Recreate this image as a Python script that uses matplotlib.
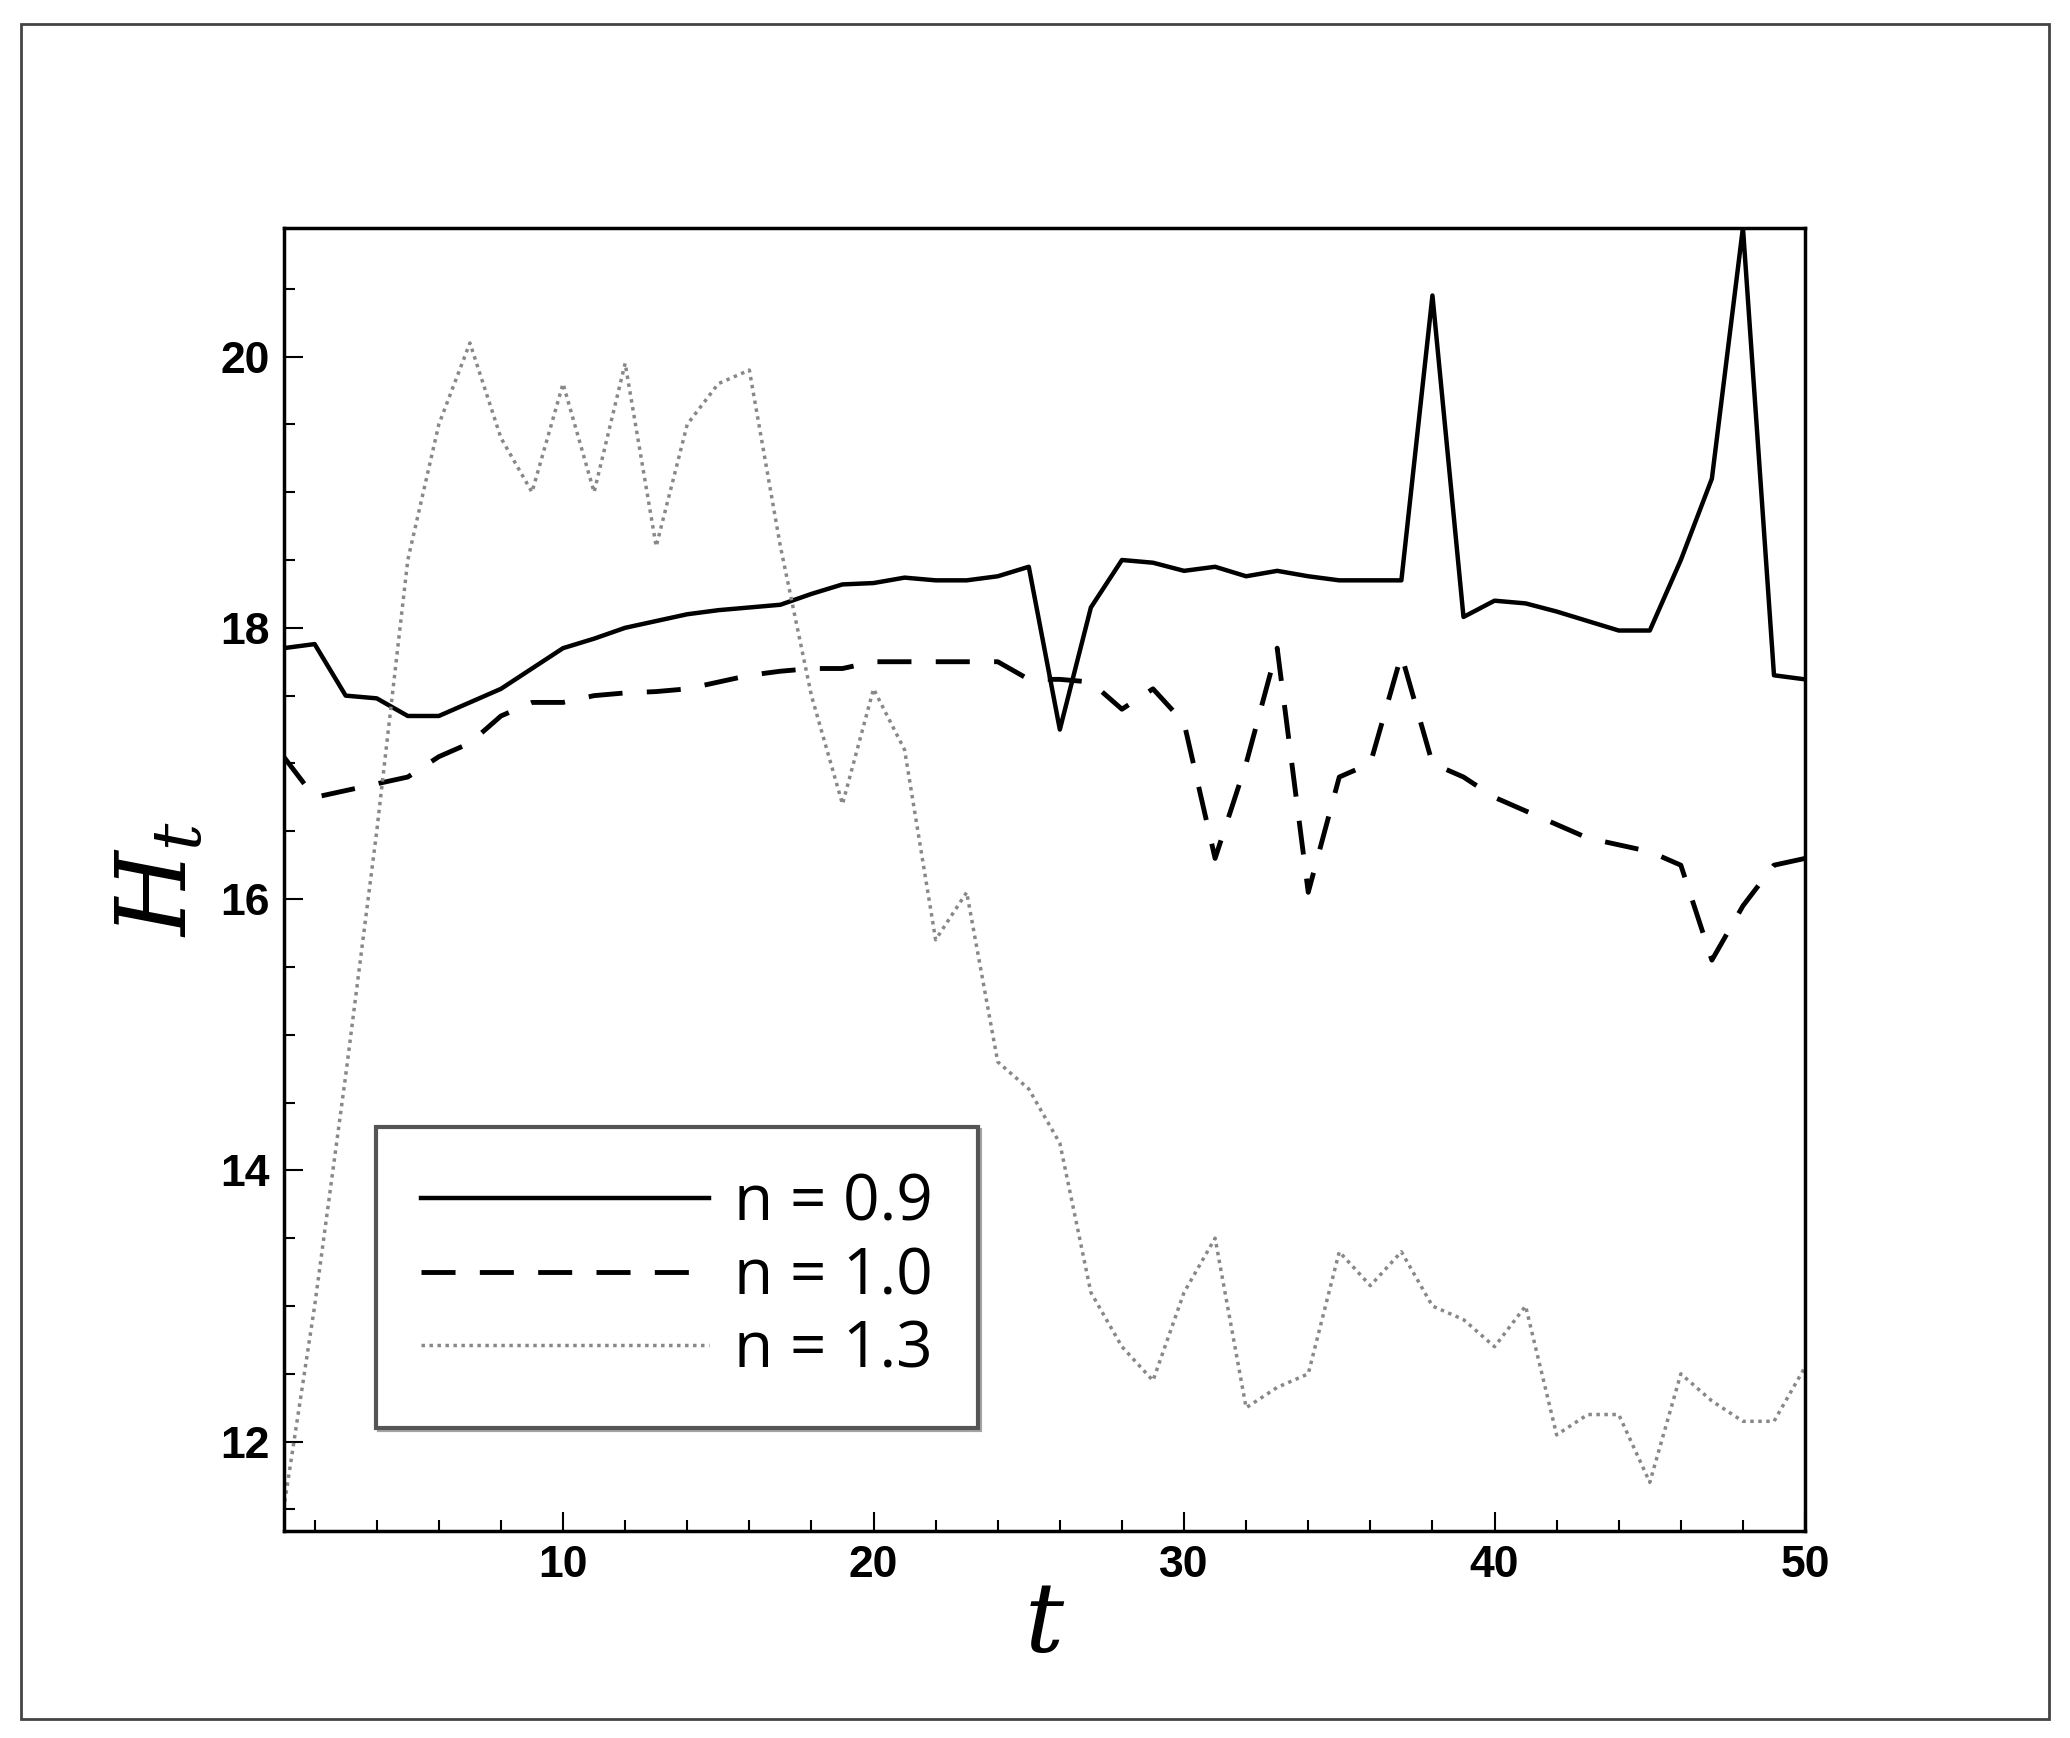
import matplotlib
matplotlib.use("Agg")
import matplotlib.pyplot as plt
from matplotlib.patches import Rectangle
from matplotlib.ticker import MultipleLocator
plt.rcParams["mathtext.fontset"] = "dejavuserif"

t = list(range(1, 51))
h09 = [17.85,17.88,17.5,17.48,17.35,17.35,17.45,17.55,17.7,17.85,17.92,18.0,18.05,18.1,18.13,18.15,18.17,18.25,18.32,18.33,
       18.37,18.35,18.35,18.38,18.45,17.25,18.15,18.5,18.48,18.42,18.45,18.38,18.42,18.38,18.35,18.35,18.35,20.45,18.08,18.2,
       18.18,18.12,18.05,17.98,17.98,18.5,19.1,20.95,17.65,17.62]
h10 = [17.05,16.75,16.8,16.85,16.9,17.05,17.15,17.35,17.45,17.45,17.5,17.52,17.53,17.55,17.6,17.65,17.68,17.7,17.7,17.75,
       17.75,17.75,17.75,17.75,17.62,17.62,17.6,17.4,17.55,17.3,16.3,17.0,17.85,16.05,16.9,17.0,17.8,17.0,16.9,16.75,
       16.65,16.55,16.45,16.4,16.35,16.25,15.55,15.95,16.25,16.3]
h13 = [11.5,13.0,14.7,16.5,18.5,19.5,20.1,19.4,19.0,19.8,19.0,19.95,18.6,19.5,19.8,19.9,18.6,17.5,16.7,17.55,
       17.1,15.7,16.05,14.8,14.6,14.2,13.1,12.7,12.45,13.1,13.5,12.25,12.4,12.5,13.4,13.15,13.4,13.0,12.9,12.7,
       13.0,12.05,12.2,12.2,11.7,12.5,12.3,12.15,12.15,12.55]
labels = ["n = 0.9", "n = 1.0", "n = 1.3"]

fig = plt.figure(figsize=(20.7, 17.38), dpi=100)
fig.patches.append(Rectangle((0.01, 0.011), 0.98, 0.975, transform=fig.transFigure,
                             fill=False, ec="#444", lw=2))
ax = fig.add_axes([0.137, 0.119, 0.735, 0.75])
ax.plot(t, h09, color="black", lw=3.2, label=labels[0])
ax.plot(t, h10, color="black", lw=3.5, dashes=(7, 5), label=labels[1])
ax.plot(t, h13, color="#888", lw=2.5, linestyle=(0, (1, 1.3)), label=labels[2])
ax.set_xlim(1, 50)
ax.set_ylim(11.34, 20.95)
ax.xaxis.set_major_locator(MultipleLocator(10))
ax.xaxis.set_minor_locator(MultipleLocator(2))
ax.yaxis.set_major_locator(MultipleLocator(2))
ax.yaxis.set_minor_locator(MultipleLocator(0.5))
ax.tick_params(which="both", direction="in", top=False, right=False, width=1.5)
ax.tick_params(which="major", length=14, labelsize=32, pad=10)
ax.tick_params(which="minor", length=8)
for lab in ax.get_xticklabels() + ax.get_yticklabels():
    lab.set_fontfamily("Liberation Sans"); lab.set_fontweight("bold")
for s in ax.spines.values():
    s.set_linewidth(2.5)
ax.set_xlabel("$t$", fontsize=70, labelpad=-5)
ax.set_ylabel("$H_t$", fontsize=70, labelpad=10)
leg = ax.legend(loc="lower left", bbox_to_anchor=(0.04, 0.055), handlelength=4.5,
                frameon=True, fancybox=False, shadow=True, borderpad=0.7, handletextpad=0.4,
                labelspacing=0.15, prop={"family": "Open Sans", "size": 46})
leg.get_frame().set_edgecolor("#555")
leg.get_frame().set_linewidth(3)
fig.savefig("out.png", dpi=100)
